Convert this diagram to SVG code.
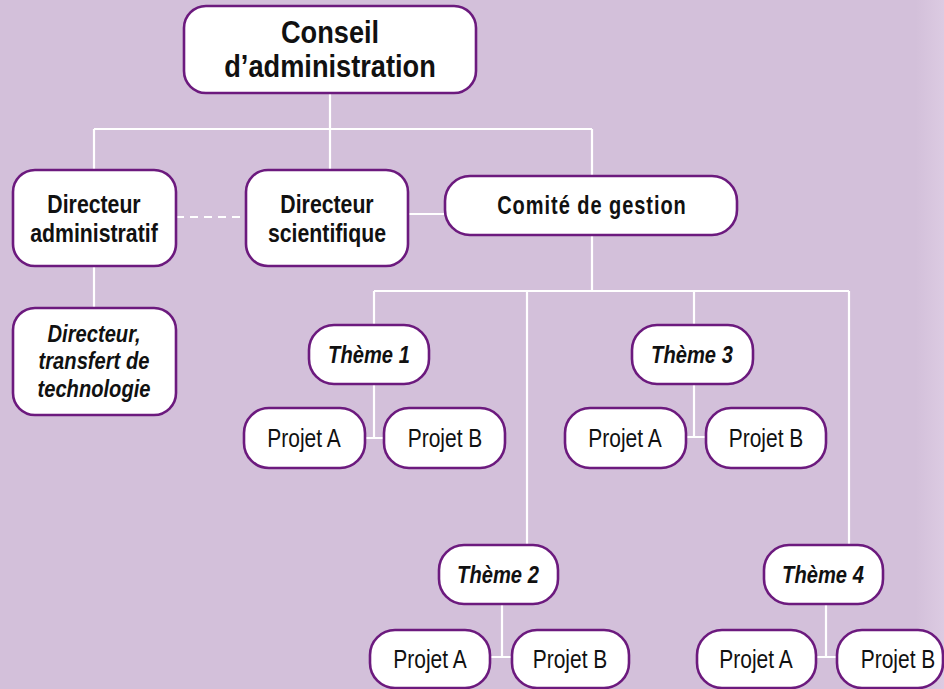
<svg xmlns="http://www.w3.org/2000/svg" width="944" height="689" viewBox="0 0 944 689">
<defs>
<linearGradient id="bg" x1="0" y1="0" x2="1" y2="0">
<stop offset="0" stop-color="#d3c0da"/>
<stop offset="0.97" stop-color="#d3c0da"/>
<stop offset="1" stop-color="#dccbe2"/>
</linearGradient>
<style>
.box{fill:#ffffff;stroke:#6c1a7e;stroke-width:2.6}
.ln{stroke:#ffffff;stroke-width:2.2;fill:none}
.t{font-family:"Liberation Sans",Arial,sans-serif;fill:#111111;text-anchor:middle}
.b{font-weight:bold;font-size:25px}
.bi{font-weight:bold;font-style:italic;font-size:24px}
.r{font-size:25px}
.big{font-weight:bold;font-size:32px}
</style>
</defs>
<rect x="0" y="0" width="944" height="689" fill="url(#bg)"/>
<g id="connectors">
<path class="ln" d="M330 93V129M94 129H592M94 129V170M330 129V170M592 129V176"/>
<path class="ln" d="M176 217H246" stroke-dasharray="8,6"/>
<path class="ln" d="M408 214H445"/>
<path class="ln" d="M94 266V308"/>
<path class="ln" d="M592 235V291M374 291H849M374 291V325M527 291V545M694 291V325M849 291V545"/>
<path class="ln" d="M374 384V438M365 438H384"/>
<path class="ln" d="M694 384V437M686 437H706"/>
<path class="ln" d="M502 604V657M490 657H512"/>
<path class="ln" d="M826 604V657M816 657H837"/>
</g>
<g id="conseil">
<rect class="box" x="184" y="6" width="292" height="87" rx="22"/>
<text class="t big" transform="translate(330 43) scale(0.85 1)">Conseil</text>
<text class="t big" transform="translate(330 77) scale(0.85 1)">d’administration</text>
</g>
<g id="dir-admin">
<rect class="box" x="13" y="170" width="163" height="96" rx="22"/>
<text class="t b" transform="translate(94 213) scale(0.85 1)">Directeur</text>
<text class="t b" transform="translate(94 242) scale(0.85 1)">administratif</text>
</g>
<g id="dir-sci">
<rect class="box" x="246" y="170" width="162" height="96" rx="22"/>
<text class="t b" transform="translate(327 213) scale(0.85 1)">Directeur</text>
<text class="t b" transform="translate(327 242) scale(0.85 1)">scientifique</text>
</g>
<g id="comite">
<rect class="box" x="445" y="176" width="292" height="59" rx="25"/>
<text class="t b" transform="translate(592 214) scale(0.8 1)" letter-spacing="1.2">Comité de gestion</text>
</g>
<g id="dir-transfert">
<rect class="box" x="13" y="308" width="163" height="107" rx="22"/>
<text class="t bi" transform="translate(94 342) scale(0.84 1)">Directeur,</text>
<text class="t bi" transform="translate(94 369) scale(0.84 1)">transfert de</text>
<text class="t bi" transform="translate(94 397) scale(0.84 1)">technologie</text>
</g>
<g id="theme1">
<rect class="box" x="309" y="325" width="120" height="59" rx="25"/>
<text class="t bi" transform="translate(369 363) scale(0.84 1)">Thème 1</text>
</g>
<g id="theme1-a">
<rect class="box" x="244" y="408" width="121" height="60" rx="25"/>
<text class="t r" transform="translate(304 447) scale(0.84 1)">Projet A</text>
</g>
<g id="theme1-b">
<rect class="box" x="384" y="408" width="121" height="60" rx="25"/>
<text class="t r" transform="translate(445 447) scale(0.84 1)">Projet B</text>
</g>
<g id="theme3">
<rect class="box" x="632" y="325" width="121" height="59" rx="25"/>
<text class="t bi" transform="translate(692 363) scale(0.84 1)">Thème 3</text>
</g>
<g id="theme3-a">
<rect class="box" x="565" y="408" width="121" height="60" rx="25"/>
<text class="t r" transform="translate(625 447) scale(0.84 1)">Projet A</text>
</g>
<g id="theme3-b">
<rect class="box" x="706" y="408" width="120" height="60" rx="25"/>
<text class="t r" transform="translate(766 447) scale(0.84 1)">Projet B</text>
</g>
<g id="theme2">
<rect class="box" x="439" y="545" width="119" height="59" rx="25"/>
<text class="t bi" transform="translate(498 583) scale(0.84 1)">Thème 2</text>
</g>
<g id="theme2-a">
<rect class="box" x="370" y="630" width="120" height="58" rx="25"/>
<text class="t r" transform="translate(430 668) scale(0.84 1)">Projet A</text>
</g>
<g id="theme2-b">
<rect class="box" x="512" y="630" width="117" height="58" rx="25"/>
<text class="t r" transform="translate(570 668) scale(0.84 1)">Projet B</text>
</g>
<g id="theme4">
<rect class="box" x="764" y="545" width="119" height="59" rx="25"/>
<text class="t bi" transform="translate(823 583) scale(0.84 1)">Thème 4</text>
</g>
<g id="theme4-a">
<rect class="box" x="697" y="630" width="119" height="58" rx="25"/>
<text class="t r" transform="translate(756 668) scale(0.84 1)">Projet A</text>
</g>
<g id="theme4-b">
<rect class="box" x="837" y="630" width="106" height="58" rx="25"/>
<text class="t r" transform="translate(898 668) scale(0.84 1)">Projet B</text>
</g>
</svg>
